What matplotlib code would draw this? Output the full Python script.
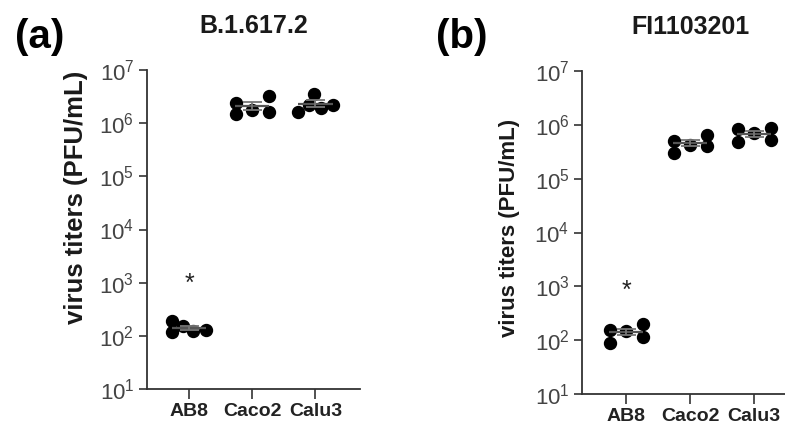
import numpy as np
import matplotlib
matplotlib.use("Agg")
import matplotlib.pyplot as plt
from matplotlib.ticker import FixedLocator, FuncFormatter, NullLocator

plt.rcParams["font.family"] = ["Liberation Sans", "DejaVu Sans"]
plt.rcParams["mathtext.fontset"] = "custom"
plt.rcParams["mathtext.rm"] = "Liberation Sans"
plt.rcParams["mathtext.it"] = "Liberation Sans:italic"
plt.rcParams["mathtext.bf"] = "Liberation Sans:bold"

# values (PFU/mL)
cells = ["AB8", "Caco2", "Calu3"]
delta_ab8 = [190, 119, 154, 124, 129]
delta_caco2 = [2.44e6, 1.46e6, 1.8e6, 3.3e6, 1.59e6]
delta_calu3 = [1.65e6, 3.6e6, 2.24e6, 1.96e6, 2.24e6]
fi_ab8 = [155, 89, 148, 200, 115]
fi_caco2 = [5.0e5, 3.0e5, 4.25e5, 6.5e5, 4.1e5]
fi_calu3 = [8.4e5, 4.7e5, 7.1e5, 8.7e5, 5.3e5]
star_a = 0.96e3
star_b = 0.84e3

# horizontal spread of the dots inside each column
spread = [-0.26, -0.26, 0.0, 0.26, 0.26]
spread_a_ab8 = [-0.27, -0.27, -0.1, 0.06, 0.27]
spread_a_calu3 = [-0.27, -0.02, -0.1, 0.08, 0.27]

INK = "#333333"

fig = plt.figure(figsize=(7.85, 4.28), dpi=100)
ax_a = fig.add_axes([0.187, 0.0911, 0.272, 0.7453])
ax_b = fig.add_axes([0.7414, 0.0794, 0.2764, 0.7547])


def draw(ax, groups, offsets, star, title, ylab_xy, ylab_size, xlim):
    for i, (vals, offs) in enumerate(zip(groups, offsets)):
        vals = np.array(vals, dtype=float)
        ax.plot(i + np.array(offs), vals, "o", color="black", ms=8.6, zorder=3, clip_on=False)
        m = vals.mean()
        sem = vals.std(ddof=1) / np.sqrt(len(vals))
        ax.hlines(m, i - 0.27, i + 0.27, color="#555555", lw=1.6, zorder=4)
        ax.hlines([m - sem, m + sem], i - 0.15, i + 0.15, color="#777777", lw=1.3, zorder=4)
        ax.vlines(i, m - sem, m + sem, color="#777777", lw=1.3, zorder=4)
    ax.text(0, star, "*", ha="center", va="center", fontsize=18, color="#222222")
    ax.set_yscale("log")
    ax.set_ylim(10, 1e7)
    ax.set_xlim(*xlim)
    ax.yaxis.set_major_locator(FixedLocator([10.0 ** k for k in range(1, 8)]))
    ax.yaxis.set_minor_locator(NullLocator())
    ax.yaxis.set_major_formatter(FuncFormatter(lambda v, p: r"$\mathregular{10^{%d}}$" % round(np.log10(v))))
    ax.set_xticks(range(len(cells)))
    ax.set_xticklabels(cells, fontweight="bold", fontsize=14, color="#222222")
    for lab in ax.get_yticklabels():
        lab.set_fontsize(16)
        lab.set_color("#444444")
    ax.tick_params(axis="y", length=6, width=1.2, color=INK, pad=3)
    ax.tick_params(axis="x", length=7, width=1.2, color=INK, pad=3)
    for s in ["top", "right"]:
        ax.spines[s].set_visible(False)
    for s in ["left", "bottom"]:
        ax.spines[s].set_linewidth(1.3)
        ax.spines[s].set_color(INK)
    ax.set_ylabel("virus titers (PFU/mL)", fontweight="bold", fontsize=ylab_size, color="#1a1a1a")
    ax.yaxis.set_label_coords(*ylab_xy)
    ax.set_title(title, fontweight="bold", fontsize=18, color="#1a1a1a", pad=27)


draw(ax_a, [delta_ab8, delta_caco2, delta_calu3], [spread_a_ab8, spread, spread_a_calu3],
     star_a, "B.1.617.2", (-0.275, 0.60), 18.5, (-0.67, 2.71))
draw(ax_b, [fi_ab8, fi_caco2, fi_calu3], [spread, spread, spread],
     star_b, "FI1103201", (-0.286, 0.514), 16, (-0.69, 2.70))

fig.text(40 / 785, 1 - 37 / 428, "(a)", fontsize=29, fontweight="bold", ha="center", va="center")
fig.text(462 / 785, 1 - 37 / 428, "(b)", fontsize=29, fontweight="bold", ha="center", va="center")

fig.savefig("out.png", dpi=100)
